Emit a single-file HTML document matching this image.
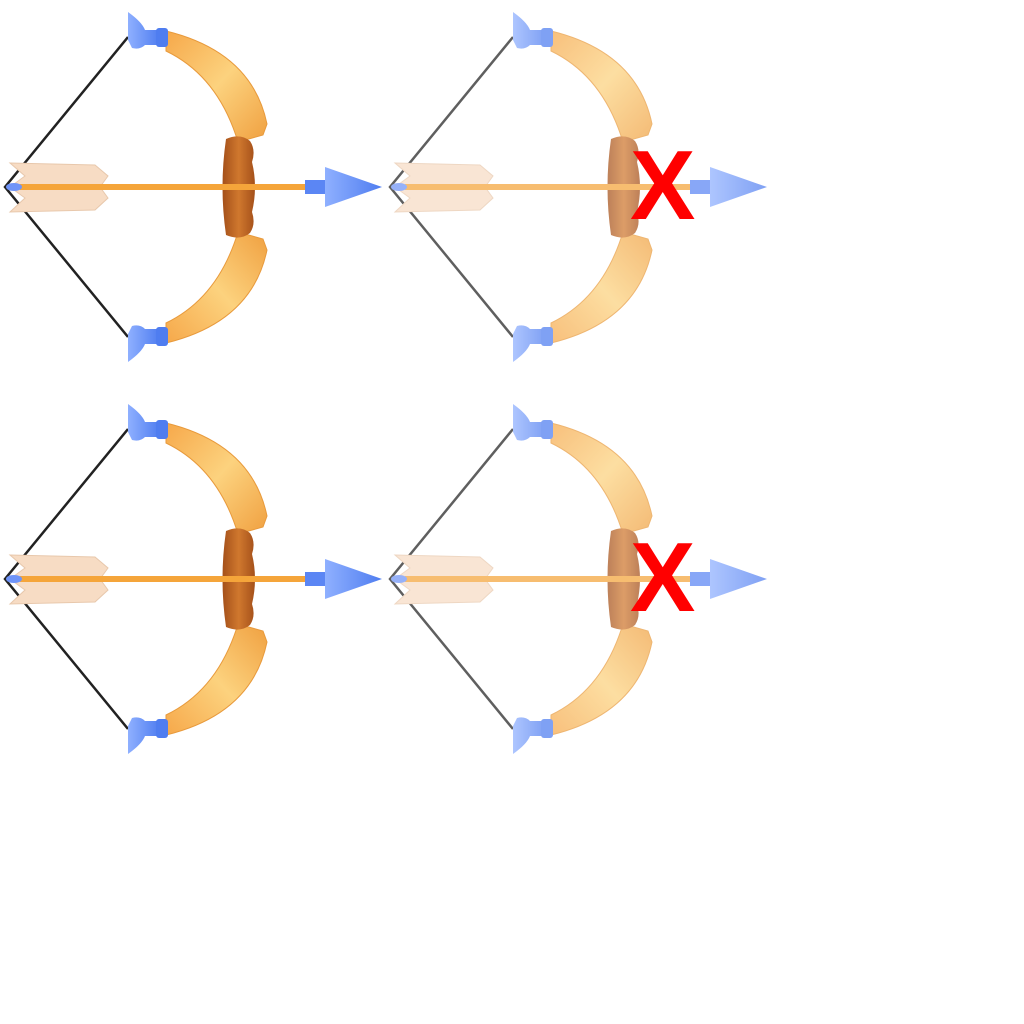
<!DOCTYPE html>
<html><head><meta charset="utf-8"><style>html,body{margin:0;padding:0;background:#fff;width:1024px;height:1024px;overflow:hidden}</style></head>
<body>
<svg width="1024" height="1024" viewBox="0 0 1024 1024">
<defs>
<linearGradient id="wood" x1="0" y1="0" x2="1" y2="1"><stop offset="0" stop-color="#f6a84a"/><stop offset="0.5" stop-color="#fcd27e"/><stop offset="1" stop-color="#f0a040"/></linearGradient>
<linearGradient id="blue" x1="0" y1="0" x2="1" y2="0"><stop offset="0" stop-color="#8fb0ff"/><stop offset="1" stop-color="#4f7df0"/></linearGradient>
<linearGradient id="grip" x1="0" y1="0" x2="1" y2="0"><stop offset="0" stop-color="#a4501a"/><stop offset="0.5" stop-color="#d0782e"/><stop offset="1" stop-color="#a4501a"/></linearGradient>
<g id="limb">
<path d="M166,31 Q252,52 267,124 L263,135 L238,142 Q218,76 166,51 Z" fill="url(#wood)" stroke="#e89a3c" stroke-width="1"/>
<path d="M128,12 Q142,22 145,30 L160,30 L160,45 L145,45 Q140,50 132,48 L128,40 Z" fill="url(#blue)"/>
<rect x="156" y="28" width="12" height="19" rx="3" fill="#4f7df0"/>
</g>
<g id="bow">
<polyline points="128,37 5,187 128,337" fill="none" stroke="#222" stroke-width="2.5"/>
<use href="#limb"/>
<use href="#limb" transform="translate(0,374) scale(1,-1)"/>
<path d="M226,139 Q240,133 250,141 Q256,150 252,162 Q258,187 252,212 Q256,224 250,233 Q240,241 226,235 Q219,187 226,139 Z" fill="url(#grip)"/>
<path d="M10,163 L95,165 L108,176 L100,187 L108,198 L95,210 L10,212 L25,198 L10,187 L25,176 Z" fill="#f7dcc4" stroke="#e8c8ac" stroke-width="1"/>
<rect x="20" y="184" width="290" height="6" fill="#f5a53a"/>
<ellipse cx="14" cy="187" rx="8" ry="4" fill="#6f94f8"/>
<rect x="305" y="180" width="20" height="14" fill="#5b86f4"/>
<path d="M325,167 L382,187 L325,207 Z" fill="url(#blue)"/>
</g>
</defs>
<g><use href="#bow"/></g>
<g opacity="0.72"><use href="#bow" x="385"/></g>
<text x="630" y="219" font-family="Liberation Sans, sans-serif" font-weight="bold" font-size="98" fill="#ff0000">X</text>
<g><use href="#bow" y="392"/></g>
<g opacity="0.72"><use href="#bow" x="385" y="392"/></g>
<text x="630" y="611" font-family="Liberation Sans, sans-serif" font-weight="bold" font-size="98" fill="#ff0000">X</text>
</svg>
</body></html>
